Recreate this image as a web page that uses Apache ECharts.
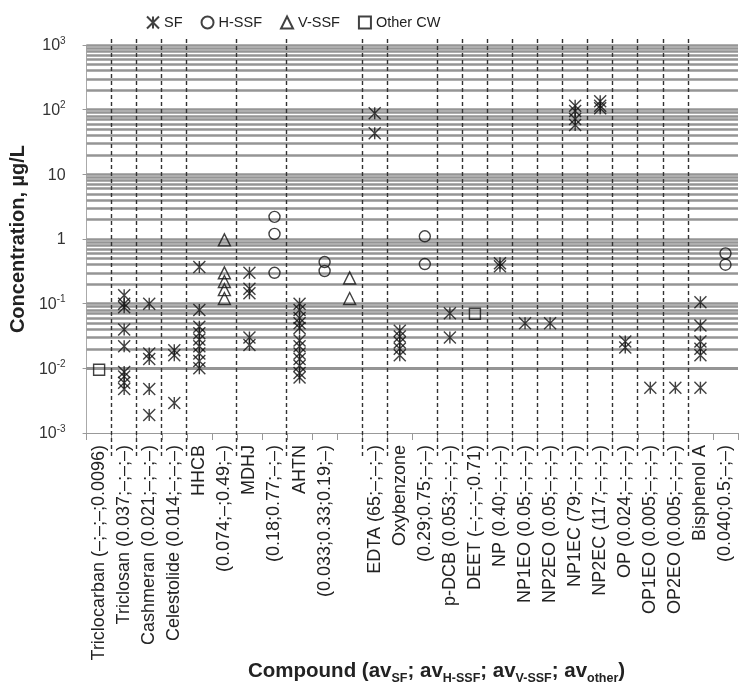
<!DOCTYPE html>
<html><head><meta charset="utf-8">
<script src="https://cdn.jsdelivr.net/npm/echarts@6/dist/echarts.min.js"></script>
<style>html,body{margin:0;padding:0;background:#fff}#c{width:740px;height:694px}</style>
</head><body><div id="c"></div>
<script>
const categories = [
  "Triclocarban (–;–;–;0.0096)", "Triclosan (0.037;–;–;–)", "Cashmeran (0.021;–;–;–)", "Celestolide (0.014;–;–;–)",
  "HHCB", "(0.074;–;0.49;–)", "MDHJ", "(0.18;0.77;–;–)", "AHTN", "(0.033;0.33;0.19;–)", "",
  "EDTA (65;–;–;–)", "Oxybenzone", "(0.29;0.75;–;–)", "p-DCB (0.053;–;–;–)", "DEET (–;–;–;0.71)",
  "NP (0.40;–;–;–)", "NP1EO (0.05;–;–;–)", "NP2EO (0.05;–;–;–)", "NP1EC (79;–;–;–)", "NP2EC (117;–;–;–)",
  "OP (0.024;–;–;–)", "OP1EO (0.005;–;–;–)", "OP2EO (0.005;–;–;–)", "Bisphenol A", "(0.040;0.5;–;–)"
];
// number of category slots in each compound group (dashed separators between groups)
const groupSizes = [1,1,1,1,2,2,3,1,2,1,1,1,1,1,1,1,1,1,1,2];

const sfValues = [
  [],
  [0.135, 0.1, 0.088, 0.04, 0.022, 0.0088, 0.0075, 0.006, 0.0048],
  [0.1, 0.017, 0.014, 0.0048, 0.0019],
  [0.019, 0.016, 0.0029],
  [0.37, 0.08, 0.044, 0.035, 0.028, 0.022, 0.017, 0.013, 0.01],
  [],
  [0.3, 0.17, 0.145, 0.03, 0.023],
  [],
  [0.1, 0.08, 0.06, 0.05, 0.042, 0.027, 0.022, 0.017, 0.014, 0.011, 0.0085, 0.0072],
  [],
  [],
  [88, 43],
  [0.038, 0.031, 0.025, 0.02, 0.016],
  [],
  [0.071, 0.03],
  [],
  [0.42, 0.38],
  [0.05],
  [0.05],
  [115, 95, 72, 58],
  [135, 115, 105],
  [0.026, 0.021],
  [0.005],
  [0.005],
  [0.105, 0.046, 0.026, 0.02, 0.016, 0.005],
  []
];
const hssfValues = [
  [],[],[],[],[],[],[],
  [2.2, 1.2, 0.3],
  [],
  [0.44, 0.32],
  [],[],[],
  [1.1, 0.41],
  [],[],[],[],[],[],[],[],[],[],[],
  [0.6, 0.4]
];
const vssfValues = [
  [],[],[],[],[],
  [0.97, 0.3, 0.22, 0.165, 0.12],
  [],[],[],[],
  [0.25, 0.12],
  [],[],[],[],[],[],[],[],[],[],[],[],[],[],[]
];
const otherValues = [
  [0.0095],
  [],[],[],[],[],[],[],[],[],[],[],[],[],[],
  [0.07],
  [],[],[],[],[],[],[],[],[],[]
];
const yTickBases = ["10", "10", "10", "1", "10", "10", "10"];
const yTickExps  = ["-3", "-2", "-1", "", "", "2", "3"];

function toPoints(arr) {
  const out = [];
  arr.forEach((vals, i) => vals.forEach(v => out.push([i, v])));
  return out;
}
const boundaries = [];
let acc = 0;
groupSizes.forEach((g, i) => { acc += g; if (i < groupSizes.length - 1) boundaries.push(acc); });
const gridValues = [];
for (let e = -3; e <= 2; e++) for (let k = 1; k <= 9; k++) gridValues.push(+(k * Math.pow(10, e)).toPrecision(3));
gridValues.push(1000);

const FONT = "'Liberation Sans', Arial, sans-serif";
const starPath = 'path://M0,0L12,12M12,0L0,12M6,0L6,12';
const mk = { color: 'rgba(0,0,0,0)', borderColor: '#111', borderWidth: 1.4 };

const chart = echarts.init(document.getElementById('c'), null, { renderer: 'canvas' });
chart.setOption({
  animation: false,
  backgroundColor: '#fff',
  textStyle: { fontFamily: FONT },
  title: {
    text: '{b|Compound (av}{s|SF}{b|; av}{s|H-SSF}{b|; av}{s|V-SSF}{b|; av}{s|other}{b|)}',
    left: 248, top: 661, padding: 0,
    textStyle: {
      rich: {
        b: { fontSize: 20.5, fontWeight: 'bold', color: '#222', fontFamily: FONT, lineHeight: 24, verticalAlign: 'top' },
        s: { fontSize: 12.5, fontWeight: 'bold', color: '#222', fontFamily: FONT, lineHeight: 6, verticalAlign: 'bottom' }
      }
    }
  },
  legend: {
    data: ['SF', 'H-SSF', 'V-SSF', 'Other CW'],
    left: 141, top: 10, itemWidth: 12, itemHeight: 12, itemGap: 18,
    textStyle: { fontSize: 14.5, color: '#222', fontFamily: FONT }
  },
  grid: [
    { left: 86, right: 2, top: 45, bottom: 261 },
    { left: 86, right: 2, top: 37, bottom: 238 }
  ],
  xAxis: [
    {
      type: 'category', gridIndex: 0, data: categories, boundaryGap: true,
      axisLine: { show: true, lineStyle: { color: '#999', width: 1 } },
      axisTick: { show: true, interval: 0, length: 7, lineStyle: { color: '#999' } },
      axisLabel: { interval: 0, rotate: 90, fontSize: 18, color: '#222', margin: 12, fontFamily: FONT },
      splitLine: { show: false }
    },
    { type: 'value', gridIndex: 1, min: 0, max: categories.length, show: false }
  ],
  yAxis: [
    {
      type: 'log', gridIndex: 0, logBase: 10, min: 0.001, max: 1000,
      axisLine: { show: true, lineStyle: { color: '#aaa', width: 1 } },
      axisTick: { show: true, length: 4, lineStyle: { color: '#999' } },
      splitLine: { show: false },
      axisLabel: {
        margin: 21,
        formatter: function (v) {
          const e = Math.round(Math.log10(v));
          const b = yTickBases[e + 3], s = yTickExps[e + 3];
          return s ? '{b|' + b + '}{s|' + s + '}' : '{b|' + b + '}';
        },
        rich: {
          b: { fontSize: 16, color: '#333', fontFamily: FONT, lineHeight: 18, verticalAlign: 'bottom' },
          s: { fontSize: 10, color: '#333', fontFamily: FONT, lineHeight: 10, verticalAlign: 'top' }
        }
      },
      name: 'Concentration, µg/L', nameLocation: 'middle', nameGap: 58,
      nameTextStyle: { fontSize: 20, fontWeight: 'bold', color: '#222', fontFamily: FONT }
    },
    { type: 'value', gridIndex: 1, min: 0, max: 1, show: false }
  ],
  series: [
    {
      name: 'hgrid', type: 'scatter', xAxisIndex: 0, yAxisIndex: 0, z: 1, silent: true,
      data: [[0, 1]], symbolSize: 0, itemStyle: { opacity: 0 },
      markLine: {
        silent: true, symbol: ['none', 'none'], z: 1, animation: false,
        label: { show: false },
        lineStyle: { color: '#959595', width: 2.5, type: 'solid' },
        emphasis: { disabled: true },
        data: gridValues.map(v => ({ yAxis: v }))
      }
    },
    {
      name: 'vgrid', type: 'line', xAxisIndex: 1, yAxisIndex: 1, z: 2, silent: true,
      data: [[0, 0]], symbolSize: 0, showSymbol: false, lineStyle: { opacity: 0 },
      markLine: {
        silent: true, symbol: ['none', 'none'], z: 2, animation: false,
        label: { show: false },
        lineStyle: { color: '#333', width: 1.4, type: [4, 3] },
        emphasis: { disabled: true },
        data: boundaries.map(b => ({ xAxis: b }))
      }
    },
    { name: 'SF', type: 'scatter', z: 10, symbol: starPath, symbolSize: 12, itemStyle: mk, data: toPoints(sfValues) },
    { name: 'H-SSF', type: 'scatter', z: 10, symbol: 'circle', symbolSize: 11, itemStyle: mk, data: toPoints(hssfValues) },
    { name: 'V-SSF', type: 'scatter', z: 10, symbol: 'triangle', symbolSize: 12, itemStyle: mk, data: toPoints(vssfValues) },
    { name: 'Other CW', type: 'scatter', z: 10, symbol: 'rect', symbolSize: 11, itemStyle: mk, data: toPoints(otherValues) }
  ]
});
</script>
</body></html>
